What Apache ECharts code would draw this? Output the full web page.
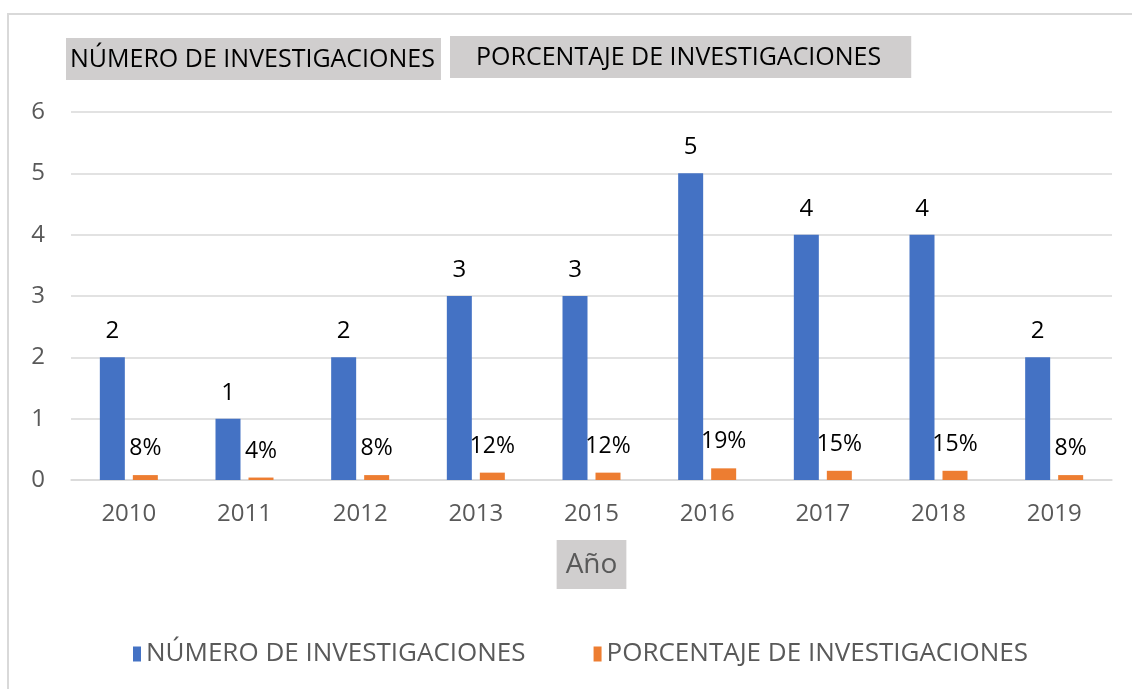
<!DOCTYPE html>
<html>
<head>
<meta charset="utf-8">
<script src="https://cdn.jsdelivr.net/npm/echarts@6/dist/echarts.min.js"></script>
<style>
  html, body { margin: 0; padding: 0; background: #fff; }
  #chart { width: 1132px; height: 689px; }
</style>
</head>
<body>
<div id="chart"></div>
<script>
// data
const years = ['2010', '2011', '2012', '2013', '2015', '2016', '2017', '2018', '2019'];
const numInvest = [2, 1, 2, 3, 3, 5, 4, 4, 2];
const pctInvest = [0.08, 0.04, 0.08, 0.12, 0.12, 0.19, 0.15, 0.15, 0.08];
const seriesNames = ['NÚMERO DE INVESTIGACIONES', 'PORCENTAJE DE INVESTIGACIONES'];

const font = 'Open Sans';
const boxGray = '#d0cece';

const chart = echarts.init(document.getElementById('chart'));

chart.setOption({
  animation: false,
  textStyle: { fontFamily: font },
  graphic: [
    {
      type: 'rect',
      shape: { x: 8, y: 14, width: 1200, height: 800 },
      style: { fill: 'none', stroke: '#d9d9d9', lineWidth: 2 },
      silent: true
    }
  ],
  title: [
    {
      text: seriesNames[0],
      left: 66, top: 38,
      backgroundColor: boxGray,
      padding: [9, 6, 8, 4],
      textStyle: { fontFamily: font, fontSize: 25, fontWeight: 'normal', color: '#000' }
    },
    {
      text: seriesNames[1],
      left: 450, top: 36,
      backgroundColor: boxGray,
      padding: [9, 30, 8, 26],
      textStyle: { fontFamily: font, fontSize: 25, fontWeight: 'normal', color: '#000' }
    }
  ],
  legend: {
    top: 636,
    left: 128,
    itemWidth: 8, itemHeight: 15,
    itemGap: 68,
    icon: 'rect',
    textStyle: { fontFamily: font, fontSize: 26, color: '#595959' },
    data: seriesNames
  },
  grid: { left: 71, right: 20, top: 112, bottom: 209 },
  xAxis: {
    type: 'category',
    data: years,
    axisLine: { lineStyle: { color: '#d9d9d9', width: 1.5 } },
    axisTick: { show: false },
    axisLabel: { fontSize: 24, color: '#595959', margin: 22 },
    name: 'Año',
    nameLocation: 'middle',
    nameGap: 60,
    nameTextStyle: {
      fontSize: 28, color: '#595959', fontFamily: font,
      backgroundColor: boxGray, padding: [11, 9, 10, 9]
    }
  },
  yAxis: {
    type: 'value',
    min: 0, max: 6, interval: 1,
    axisLine: { show: false },
    axisTick: { show: false },
    axisLabel: { fontSize: 24, color: '#595959', margin: 26 },
    splitLine: { lineStyle: { color: '#d9d9d9', width: 1.5 } }
  },
  series: [
    {
      name: seriesNames[0],
      type: 'bar',
      data: numInvest,
      barWidth: 25,
      barGap: '32%',
      itemStyle: { color: '#4472c4' },
      label: {
        show: true, position: 'top', distance: 14,
        fontSize: 24, color: '#000', fontFamily: font
      }
    },
    {
      name: seriesNames[1],
      type: 'bar',
      data: pctInvest,
      barWidth: 25,
      itemStyle: { color: '#ed7d31' },
      label: {
        show: true, position: 'top', distance: 15,
        fontSize: 23, color: '#000', fontFamily: font,
        formatter: p => Math.round(p.value * 100) + '%'
      }
    }
  ]
});
</script>
</body>
</html>
